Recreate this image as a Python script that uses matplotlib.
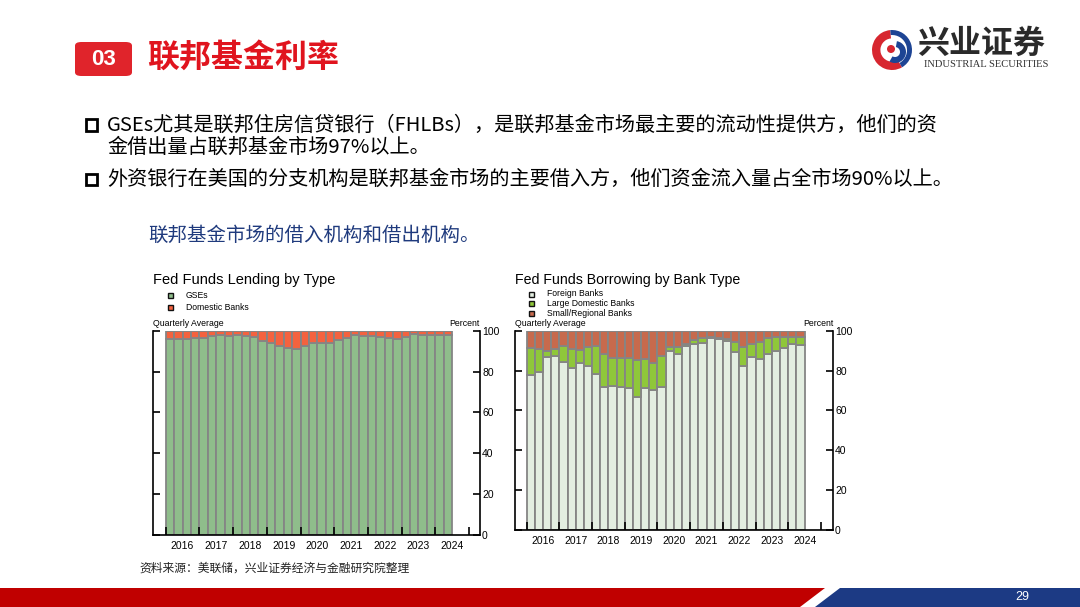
import numpy as np
import matplotlib
matplotlib.use("Agg")
import matplotlib.pyplot as plt
from matplotlib.patches import Rectangle, FancyBboxPatch, Polygon, Wedge, Circle

plt.rcParams['font.family'] = ['Noto Sans CJK SC', 'DejaVu Sans']

# ---------------- data ----------------
years = ['2016', '2017', '2018', '2019', '2020', '2021', '2022', '2023', '2024']

lend_gse = [95.8, 95.8, 95.8, 96.4, 96.4, 97.2, 97.9, 97.5, 97.7, 97.2, 96.8, 95.2,
            93.9, 92.3, 91.5, 91.2, 92.3, 94.0, 94.0, 93.9, 95.3, 96.4, 97.7, 97.2,
            97.2, 96.9, 96.2, 96.1, 96.7, 98.3, 98.0, 98.0, 98.0, 98.0]
lend_dom = [4.2, 4.2, 4.2, 3.6, 3.6, 2.8, 2.1, 2.5, 2.3, 2.8, 3.2, 4.8,
            6.1, 7.7, 8.5, 8.8, 7.7, 6.0, 6.0, 6.1, 4.7, 3.6, 2.3, 2.8,
            2.8, 3.1, 3.8, 3.9, 3.3, 1.7, 2.0, 2.0, 2.0, 2.0]

borr_foreign = [77.7, 79.1, 86.8, 87.4, 84.3, 81.4, 83.6, 82.4, 78.4, 72.0, 72.4, 71.7,
                71.0, 66.5, 71.5, 70.4, 71.7, 90.0, 88.3, 92.3, 93.1, 94.0, 96.1, 95.8,
                95.0, 89.4, 82.4, 86.9, 85.6, 88.1, 89.8, 91.1, 93.5, 92.8]
borr_large = [13.4, 11.7, 3.2, 3.6, 8.2, 9.4, 6.9, 9.6, 13.7, 16.1, 14.0, 14.4,
              15.1, 18.6, 14.3, 13.2, 15.6, 2.0, 3.7, 1.1, 2.0, 2.1, 0.9, 0.3,
              0.8, 5.1, 9.6, 6.2, 8.9, 8.4, 7.2, 5.9, 3.5, 4.2]
borr_small = [8.9, 9.2, 10.0, 9.0, 7.5, 9.2, 9.5, 8.0, 7.9, 11.9, 13.6, 13.9,
              13.9, 14.9, 14.2, 16.4, 12.7, 8.0, 8.0, 6.6, 4.9, 3.9, 3.0, 3.9,
              4.2, 5.5, 8.0, 6.9, 5.5, 3.5, 3.0, 3.0, 3.0, 3.0]

lend_labels = ['GSEs', 'Domestic Banks']
borr_labels = ['Foreign Banks', 'Large Domestic Banks', 'Small/Regional Banks']

C_GSE, C_DOM = '#8fbd8b', '#f4623f'
C_FOR, C_LRG, C_SML = '#e3eee1', '#8fc73a', '#c76a4d'
C_EDGE = '#858585'

W, H = 1080, 607
fig = plt.figure(figsize=(W / 100, H / 100), dpi=100)
fig.patch.set_facecolor('white')


def fx(x):
    return x / W


def fy(y):
    return 1 - y / H


def ax_rect(l, t, r, b):
    return [fx(l), fy(b), fx(r) - fx(l), fy(t) - fy(b)]


CH = 'Liberation Sans'

# ---------------- header ----------------
fig.patches.append(FancyBboxPatch((fx(75), fy(76)), fx(57), 34 / H,
                                  boxstyle='round,pad=0,rounding_size=0.006',
                                  transform=fig.transFigure, facecolor='#e0242b',
                                  edgecolor='none'))
fig.text(fx(103.5), fy(59.5), '03', color='white', fontsize=16, fontweight='bold',
         ha='center', va='center', family=['Liberation Sans', 'DejaVu Sans'])
fig.text(fx(147), fy(58), '联邦基金利率', color='#e0141e', fontsize=23,
         fontweight='bold', ha='left', va='center')

# logo
lax = fig.add_axes(ax_rect(871, 29, 913, 71))
lax.set_xlim(-1.05, 1.05)
lax.set_ylim(-1.05, 1.05)
lax.set_aspect('equal')
lax.axis('off')
lax.add_patch(Wedge((0, 0), 1.0, 95, 300, width=0.42, facecolor='#d7262f', edgecolor='none'))
lax.add_patch(Wedge((0, 0), 1.0, -60, 95, width=0.25, facecolor='#1d4494', edgecolor='none'))
lax.add_patch(Wedge((0.15, -0.1), 0.55, -120, 80, width=0.3, facecolor='#1d4494', edgecolor='none'))
lax.add_patch(Circle((-0.05, 0.05), 0.2, facecolor='#d7262f', edgecolor='none'))
fig.text(fx(917), fy(43.5), '兴业证券', color='#2a2a2a', fontsize=23, fontweight='bold',
         ha='left', va='center')
fig.text(fx(986), fy(64.5), 'INDUSTRIAL SECURITIES', color='#333333', fontsize=7.6,
         ha='center', va='center', family=['Liberation Serif', 'DejaVu Serif'])

# bullets
for yb in (125, 179.5):
    fig.patches.append(Rectangle((fx(85.5), fy(yb + 5.5)), fx(11), 11 / H,
                                 transform=fig.transFigure, facecolor='white',
                                 edgecolor='black', linewidth=2.0))
fig.text(fx(107), fy(125), 'GSEs尤其是联邦住房信贷银行（FHLBs），是联邦基金市场最主要的流动性提供方，他们的资',
         fontsize=14.5, ha='left', va='center', color='black')
fig.text(fx(107), fy(147), '金借出量占联邦基金市场97%以上。',
         fontsize=14.5, ha='left', va='center', color='black')
fig.text(fx(107), fy(179.5), '外资银行在美国的分支机构是联邦基金市场的主要借入方，他们资金流入量占全市场90%以上。',
         fontsize=14.5, ha='left', va='center', color='black')
fig.text(fx(148), fy(235), '联邦基金市场的借入机构和借出机构。', fontsize=14,
         ha='left', va='center', color='#1f3a7d')

# ---------------- charts ----------------
x = np.arange(len(lend_gse))
year_bounds = np.arange(-0.5, 36, 4)
year_centers = np.arange(1.5, 34, 4)


def style_axis(ax, xlim):
    ax.set_xlim(*xlim)
    ax.set_ylim(0, 100)
    ax.spines['top'].set_visible(False)
    for s in ('left', 'right', 'bottom'):
        ax.spines[s].set_linewidth(1.2)
        ax.spines[s].set_color('black')
    ax.set_yticks([0, 20, 40, 60, 80, 100])
    ax.tick_params(axis='y', which='both', direction='in', length=5, width=1.2,
                   left=True, right=True, labelleft=False, labelright=True,
                   labelsize=7.5, pad=1.5)
    for lab in ax.get_yticklabels():
        lab.set_family(CH)
    ax.set_xticks(year_bounds)
    ax.set_xticklabels([''] * len(year_bounds))
    ax.set_xticks(year_centers, minor=True)
    ax.set_xticklabels(years, minor=True, family=CH, fontsize=7.5)
    ax.tick_params(axis='x', which='major', direction='in', length=6, width=1.2)
    ax.tick_params(axis='x', which='minor', length=0, pad=4)


def legend_items(x0, ys, labels, colors, tx):
    for yy, lab, col in zip(ys, labels, colors):
        fig.patches.append(Rectangle((fx(x0 - 2.5), fy(yy + 2.5)), fx(5), 5 / H,
                                     transform=fig.transFigure, facecolor=col,
                                     edgecolor='#111111', linewidth=1.0))
        fig.text(fx(tx), fy(yy), lab, fontsize=6.2, family=CH, ha='left', va='center')


# left chart
ax1 = fig.add_axes(ax_rect(153.3, 330.7, 480, 535))
ax1.bar(x, lend_gse, width=1.0, color=C_GSE, edgecolor=C_EDGE, linewidth=1.3)
ax1.bar(x, lend_dom, width=1.0, bottom=lend_gse, color=C_DOM, edgecolor=C_EDGE, linewidth=1.3)
style_axis(ax1, (-1.97, 36.8))
fig.text(fx(153), fy(280), 'Fed Funds Lending by Type', fontsize=10.5, family=CH,
         ha='left', va='center')
legend_items(170, [296, 307], lend_labels, [C_GSE, C_DOM], 186)
fig.text(fx(153), fy(324), 'Quarterly Average', fontsize=6.3, family=CH, ha='left', va='center')
fig.text(fx(480), fy(324), 'Percent', fontsize=6.3, family=CH, ha='right', va='center')

# right chart
ax2 = fig.add_axes(ax_rect(515, 330.7, 833, 530))
ax2.bar(x, borr_foreign, width=1.0, color=C_FOR, edgecolor=C_EDGE, linewidth=1.3)
b2 = np.array(borr_foreign)
ax2.bar(x, borr_large, width=1.0, bottom=b2, color=C_LRG, edgecolor=C_EDGE, linewidth=1.3)
b3 = b2 + np.array(borr_large)
ax2.bar(x, borr_small, width=1.0, bottom=b3, color=C_SML, edgecolor=C_EDGE, linewidth=1.3)
style_axis(ax2, (-1.93, 36.97))
fig.text(fx(515), fy(280), 'Fed Funds Borrowing by Bank Type', fontsize=10.2, family=CH,
         ha='left', va='center')
legend_items(531, [294, 303.5, 313.3], borr_labels, [C_FOR, C_LRG, C_SML], 547)
fig.text(fx(515), fy(324), 'Quarterly Average', fontsize=6.3, family=CH, ha='left', va='center')
fig.text(fx(833), fy(324), 'Percent', fontsize=6.3, family=CH, ha='right', va='center')

# ---------------- footer ----------------
fig.text(fx(139), fy(568), '资料来源：美联储，兴业证券经济与金融研究院整理', fontsize=8.5,
         ha='left', va='center', color='#222222')
fig.patches.append(Polygon([(fx(0), fy(588)), (fx(825), fy(588)), (fx(800), fy(607)), (fx(0), fy(607))],
                           closed=True, transform=fig.transFigure, facecolor='#c00000', edgecolor='none'))
fig.patches.append(Polygon([(fx(840), fy(588)), (fx(1080), fy(588)), (fx(1080), fy(607)), (fx(815), fy(607))],
                           closed=True, transform=fig.transFigure, facecolor='#1c3a84', edgecolor='none'))
fig.text(fx(1022), fy(597.5), '29', fontsize=9, color='white', ha='center', va='center',
         family=CH)

fig.savefig('out.png', dpi=100)
